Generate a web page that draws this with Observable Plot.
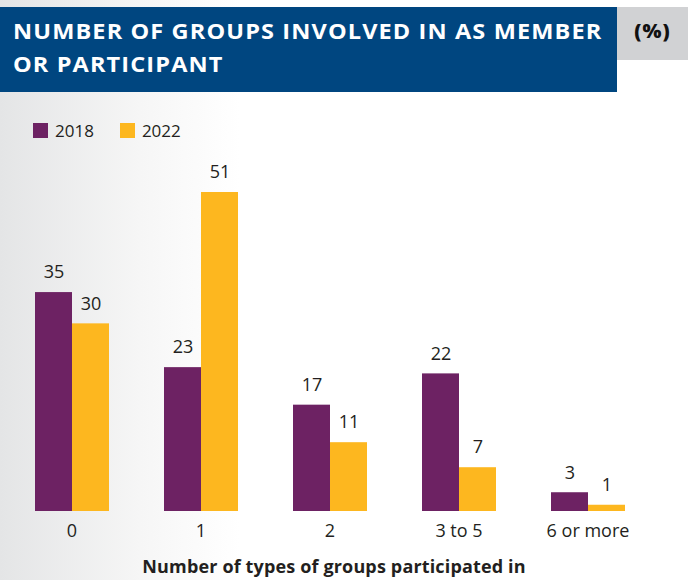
<!DOCTYPE html>
<html>
<head>
<meta charset="utf-8">
<script src="https://cdn.jsdelivr.net/npm/d3@7"></script>
<script src="https://cdn.jsdelivr.net/npm/@observablehq/plot@0.6"></script>
<style>
  html, body { margin: 0; padding: 0; }
  body {
    width: 688px; height: 580px; position: relative; overflow: hidden;
    background: linear-gradient(to right, #e4e5e6 0px, #f6f6f6 140px, #ffffff 240px);
    font-family: "Open Sans", sans-serif; color: #231f20;
  }
  #banner {
    position: absolute; left: 0; top: 7px; width: 617px; height: 85px;
    background: #004680; color: #fff; box-sizing: border-box;
    padding: 8px 0 0 13px; font-weight: 700; font-size: 21px; line-height: 32.6px;
  }
  #banner span { display: inline-block; transform: scaleX(1.12); transform-origin: left center; letter-spacing: 1px; white-space: nowrap; }
  #unit {
    position: absolute; left: 617px; top: 7px; width: 71px; height: 53px;
    background: #d1d2d4; color: #111; font-weight: 800; font-size: 20px;
    text-align: center; line-height: 48px; letter-spacing: 1px;
  }
  #legend { position: absolute; top: 119px; left: 33px; font-size: 17px; display: flex; align-items: center; }
  #legend .item { display: flex; align-items: center; margin-right: 26px; }
  #legend .sw { width: 15px; height: 15px; margin-right: 7px; }
  #chart { position: absolute; left: 0; top: 150px; }
  #xlabel { position: absolute; top: 554px; left: 0; width: 668px; text-align: center; font-weight: 700; font-size: 18px; letter-spacing: 0.15px; }
</style>
</head>
<body>
<div id="banner"><span>NUMBER OF GROUPS INVOLVED IN AS MEMBER</span><br><span>OR PARTICIPANT</span></div>
<div id="unit">(%)</div>
<div id="legend"></div>
<div id="chart"></div>
<div id="xlabel">Number of types of groups participated in</div>
<script>
const categories = ["0", "1", "2", "3 to 5", "6 or more"];
const years = ["2018", "2022"];
const values2018 = [35, 23, 17, 22, 3];
const values2022 = [30, 51, 11, 7, 1];
const colors = ["#6d2263", "#fdb71f"];

const data = [];
categories.forEach((c, i) => {
  data.push({cat: c, year: years[0], value: values2018[i]});
  data.push({cat: c, year: years[1], value: values2022[i]});
});

const legend = document.getElementById("legend");
years.forEach((y, i) => {
  const it = document.createElement("div");
  it.className = "item";
  it.innerHTML = `<span class="sw" style="background:${colors[i]}"></span><span>${y}</span>`;
  legend.appendChild(it);
});

const chart = Plot.plot({
  width: 688,
  height: 400,
  marginTop: 42,
  marginBottom: 39,
  marginLeft: 5,
  marginRight: 33,
  style: {fontSize: "18px", fontFamily: "Open Sans, sans-serif", color: "#231f20", background: "transparent"},
  fx: {domain: categories, paddingInner: 0.415, paddingOuter: 0.2077, label: null, axis: "bottom", tickSize: 0, tickPadding: 13},
  x: {domain: years, padding: 0, axis: null},
  y: {domain: [0, 51], axis: null},
  color: {domain: years, range: colors},
  marks: [
    Plot.barY(data, {fx: "cat", x: "year", y: "value", fill: "year"}),
    Plot.text(data, {fx: "cat", x: "year", y: "value", text: d => String(d.value), dy: -20, fontSize: 18, fill: "#231f20"})
  ]
});
document.getElementById("chart").appendChild(chart);
</script>
</body>
</html>
